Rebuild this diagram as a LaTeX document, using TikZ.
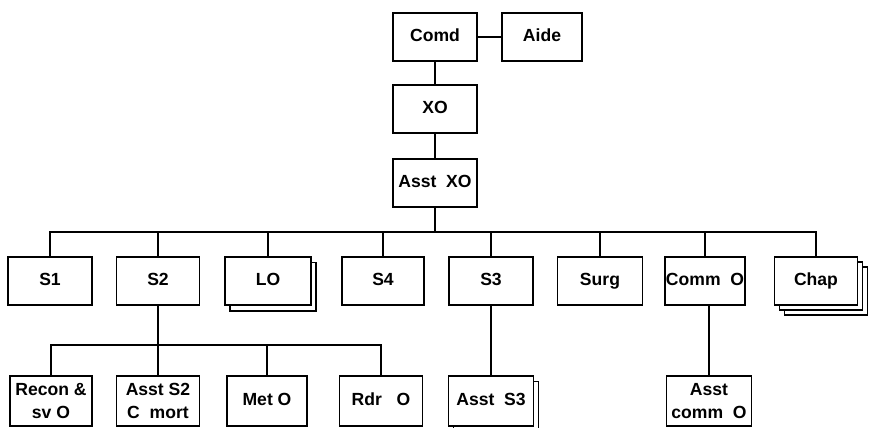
\documentclass[tikz,border=0pt]{standalone}
\usepackage{fontspec}
\setmainfont{Liberation Sans}
\usetikzlibrary{shadows}
\begin{document}
\begin{tikzpicture}[x=0.03cm,y=-0.03cm,
  box/.style={draw,fill=white,line width=1.4pt,minimum width=2.52cm,minimum height=1.45cm,inner sep=1pt,align=center,
    font=\bfseries\fontsize{15}{19}\selectfont},
  single/.style={box,text height=0.72em,text depth=0pt},
  stack/.style={copy shadow={shadow xshift=0.15cm,shadow yshift=-0.17cm,draw,fill=white,line width=1.4pt}},
  stackk/.style={copy shadow={shadow xshift=0.3cm,shadow yshift=-0.3cm,draw,fill=white,line width=1.4pt},
    copy shadow={shadow xshift=0.15cm,shadow yshift=-0.15cm,draw,fill=white,line width=1.4pt}},
  link/.style={line width=2pt}]
\useasboundingbox (0,0) rectangle (874,428);
\node[single] (v1) at (435,37) {Comd};
\node[single,minimum width=2.4cm] (v2) at (542,37) {Aide};
\node[single] (v3) at (435,109) {XO};
\node[single] (v4) at (435,183) {Asst\ \ XO};
\coordinate (v5) at (435,232);
\node[single] (v6) at (50,281) {S1};
\node[single,minimum width=2.49cm] (v7) at (158,281) {S2};
\node[single,stack,minimum width=2.58cm] (v8) at (268,281) {LO};
\node[single,minimum width=2.46cm] (v9) at (383,281) {S4};
\node[single] (v10) at (491,281) {S3};
\node[single,minimum width=2.55cm] (v11) at (600,281) {Surg};
\node[single,minimum width=2.28cm] (v12) at (705,281) {Comm\ \ O};
\node[single,stackk,minimum width=2.49cm] (v13) at (816,281) {Chap};
\coordinate (v14) at (158,345);
\node[box,minimum height=1.5cm,minimum width=2.46cm] (v15) at (51,401) {Recon \&\\sv O};
\node[box,minimum height=1.5cm,minimum width=2.49cm] (v16) at (158,401) {Asst S2\\C\ \ mort};
\node[single,minimum height=1.5cm,minimum width=2.4cm] (v17) at (267,401) {Met O};
\node[single,minimum height=1.5cm,minimum width=2.49cm] (v18) at (381,401) {Rdr\ \ \ O};
\node[single,stack,minimum height=1.5cm,minimum width=2.55cm] (v19) at (491,401) {Asst\ \ S3};
\node[box,minimum height=1.5cm,minimum width=2.55cm] (v20) at (709,401) {Asst\\comm\ \ O};
\draw[link] (v1) -- (v2);
\draw[link] (v1) -- (v3);
\draw[link] (v3) -- (v4);
\draw[link] (v4) -- (v5);
\foreach \n in {v6,v7,v8,v9,v10,v11,v12,v13}
  \draw[link] (v5) -| (\n.north);
\draw[link] (v7) -- (v14);
\foreach \n in {v15,v16,v17,v18}
  \draw[link] (v14) -| (\n.north);
\draw[link] (v10) -- (v19);
\draw[link] (v20.north) -- (v20.north |- v12.south);
\end{tikzpicture}
\end{document}
